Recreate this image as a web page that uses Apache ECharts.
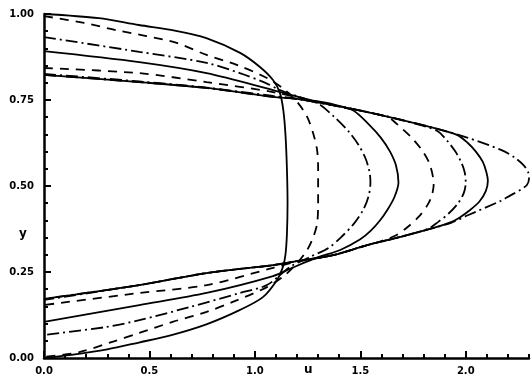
<!DOCTYPE html>
<html>
<head>
<meta charset="utf-8">
<script src="https://cdn.jsdelivr.net/npm/echarts@6/dist/echarts.min.js"></script>
<style>
  html, body { margin: 0; padding: 0; background: #fff; }
  #main { width: 532px; height: 381px; }
</style>
</head>
<body>
<div id="main"></div>
<script>
// velocity profiles, each point is [u, y]
const profile1 = [[0, 1.0], [0.26, 0.988], [0.45, 0.968], [0.62, 0.952], [0.77, 0.93], [0.93, 0.887], [1.024, 0.846], [1.086, 0.808], [1.119, 0.77], [1.135, 0.72], [1.145, 0.65], [1.152, 0.55], [1.155, 0.45], [1.152, 0.36], [1.145, 0.3], [1.133, 0.265], [1.105, 0.227], [1.038, 0.177], [0.93, 0.14], [0.77, 0.098], [0.6, 0.066], [0.45, 0.045], [0.3, 0.025], [0.13, 0.009], [0, 0]];
const profile2 = [[0, 0.994], [0.19, 0.974], [0.343, 0.953], [0.486, 0.936], [0.629, 0.916], [0.771, 0.881], [0.914, 0.852], [1.057, 0.814], [1.143, 0.779], [1.205, 0.741], [1.248, 0.701], [1.276, 0.654], [1.295, 0.605], [1.3, 0.55], [1.3, 0.45], [1.295, 0.39], [1.276, 0.35], [1.248, 0.314], [1.205, 0.279], [1.143, 0.241], [1.057, 0.206], [0.895, 0.163], [0.771, 0.134], [0.61, 0.105], [0.452, 0.073], [0.324, 0.047], [0.167, 0.017], [0, 0.003]];
const profile3 = [[0, 0.933], [0.452, 0.89], [0.771, 0.858], [0.929, 0.828], [1.05, 0.8], [1.119, 0.779], [1.22, 0.757], [1.299, 0.74], [1.378, 0.7], [1.442, 0.66], [1.491, 0.62], [1.525, 0.58], [1.544, 0.54], [1.548, 0.51], [1.539, 0.47], [1.513, 0.43], [1.469, 0.39], [1.407, 0.35], [1.349, 0.32], [1.262, 0.294], [1.167, 0.265], [1.057, 0.212], [0.929, 0.189], [0.69, 0.148], [0.452, 0.11], [0.295, 0.09], [0, 0.067]];
const profile4 = [[0, 0.892], [0.452, 0.86], [0.771, 0.828], [1.086, 0.779], [1.25, 0.752], [1.38, 0.736], [1.465, 0.72], [1.539, 0.68], [1.598, 0.64], [1.641, 0.6], [1.669, 0.56], [1.681, 0.51], [1.662, 0.468], [1.628, 0.43], [1.595, 0.401], [1.55, 0.37], [1.5, 0.345], [1.405, 0.314], [1.3, 0.293], [1.18, 0.263], [1.086, 0.238], [0.771, 0.189], [0.452, 0.154], [0, 0.105]];
const profile5 = [[0, 0.843], [0.452, 0.828], [0.771, 0.802], [1.086, 0.773], [1.405, 0.73], [1.533, 0.715], [1.631, 0.7], [1.674, 0.68], [1.744, 0.64], [1.797, 0.6], [1.831, 0.56], [1.848, 0.505], [1.838, 0.47], [1.814, 0.44], [1.776, 0.41], [1.723, 0.38], [1.67, 0.357], [1.6, 0.34], [1.533, 0.328], [1.371, 0.299], [1.2, 0.28], [1.086, 0.262], [0.771, 0.212], [0.452, 0.189], [0, 0.154]];
const profile6 = [[0, 0.823], [0.452, 0.802], [0.771, 0.785], [1.086, 0.759], [1.214, 0.752], [1.533, 0.715], [1.75, 0.683], [1.865, 0.66], [1.914, 0.63], [1.951, 0.6], [1.978, 0.57], [1.995, 0.54], [2.0, 0.51], [1.991, 0.48], [1.964, 0.45], [1.919, 0.42], [1.868, 0.395], [1.82, 0.375], [1.69, 0.352], [1.533, 0.328], [1.371, 0.299], [1.214, 0.283], [1.086, 0.27], [0.771, 0.247], [0.452, 0.212], [0, 0.169]];
const profile7 = [[0, 0.823], [0.452, 0.802], [0.771, 0.785], [1.086, 0.759], [1.214, 0.752], [1.533, 0.715], [1.848, 0.669], [1.961, 0.648], [2.01, 0.625], [2.048, 0.6], [2.081, 0.57], [2.098, 0.54], [2.105, 0.515], [2.095, 0.485], [2.065, 0.455], [2.016, 0.428], [1.97, 0.408], [1.93, 0.395], [1.848, 0.378], [1.69, 0.352], [1.533, 0.328], [1.371, 0.299], [1.214, 0.283], [1.086, 0.27], [0.771, 0.247], [0.452, 0.212], [0, 0.172]];
const profile8 = [[0, 0.826], [0.452, 0.804], [0.771, 0.786], [1.086, 0.762], [1.214, 0.752], [1.533, 0.715], [1.848, 0.669], [2.01, 0.64], [2.167, 0.605], [2.229, 0.584], [2.275, 0.56], [2.296, 0.54], [2.3, 0.522], [2.29, 0.503], [2.262, 0.49], [2.21, 0.472], [2.167, 0.457], [2.01, 0.415], [1.93, 0.393], [1.848, 0.378], [1.69, 0.352], [1.533, 0.328], [1.371, 0.299], [1.214, 0.283], [1.086, 0.27], [0.771, 0.247], [0.452, 0.212], [0, 0.172]];

const xTicks = [0, 0.5, 1.0, 1.5, 2.0];
const yTicks = [0, 0.25, 0.5, 0.75, 1.0];

const DASHED = [9, 7];
const DASHDOT = [12, 4, 2, 4];

const profiles = [
  { data: profile1, dash: 'solid' },
  { data: profile2, dash: DASHED },
  { data: profile3, dash: DASHDOT },
  { data: profile4, dash: 'solid' },
  { data: profile5, dash: DASHED },
  { data: profile6, dash: DASHDOT },
  { data: profile7, dash: 'solid' },
  { data: profile8, dash: DASHDOT }
];

const labelFont = {
  color: '#000',
  fontFamily: 'DejaVu Sans',
  fontWeight: 'bold',
  fontSize: 10
};

const chart = echarts.init(document.getElementById('main'), null, { renderer: 'canvas' });

const option = {
  backgroundColor: '#fff',
  animation: false,
  grid: { left: 44, right: 3, top: 14, bottom: 23 },
  xAxis: [
    {
      type: 'value',
      min: 0,
      max: 2.3,
      interval: 0.5,
      position: 'bottom',
      axisLine: { lineStyle: { color: '#000', width: 2.5 } },
      axisTick: { inside: true, length: 7, lineStyle: { color: '#000', width: 2 } },
      axisLabel: Object.assign({}, labelFont, {
        margin: 8,
        showMaxLabel: false,
        formatter: (v) => (xTicks.indexOf(v) >= 0 ? v.toFixed(1) : '')
      }),
      splitLine: { show: false }
    },
    {
      // short ticks every 0.1
      type: 'value',
      min: 0,
      max: 2.3,
      interval: 0.1,
      position: 'bottom',
      axisLine: { show: false },
      axisTick: { inside: true, length: 4, lineStyle: { color: '#000', width: 2 } },
      axisLabel: { show: false },
      splitLine: { show: false }
    }
  ],
  yAxis: {
    type: 'value',
    min: 0,
    max: 1,
    interval: 0.25,
    axisLine: { show: true, lineStyle: { color: '#000', width: 2.5 } },
    axisTick: { show: true, inside: true, length: 7, lineStyle: { color: '#000', width: 2 } },
    minorTick: { show: true, splitNumber: 5, length: 4, lineStyle: { color: '#000', width: 2 } },
    axisLabel: Object.assign({}, labelFont, {
      margin: 10,
      formatter: (v) => (yTicks.indexOf(v) >= 0 ? v.toFixed(2) : '')
    }),
    splitLine: { show: false }
  },
  graphic: [
    { type: 'text', left: 19, top: 228, style: { text: 'y', fill: '#000', font: 'bold 12px "DejaVu Sans"' } },
    { type: 'text', left: 304, top: 364, style: { text: 'u', fill: '#000', font: 'bold 12px "DejaVu Sans"' } }
  ],
  series: profiles.map((p) => ({
    type: 'line',
    data: p.data,
    symbol: 'none',
    smooth: 0.3,
    silent: true,
    clip: false,
    lineStyle: { color: '#000', width: 1.8, type: p.dash }
  }))
};

chart.setOption(option);
</script>
</body>
</html>
